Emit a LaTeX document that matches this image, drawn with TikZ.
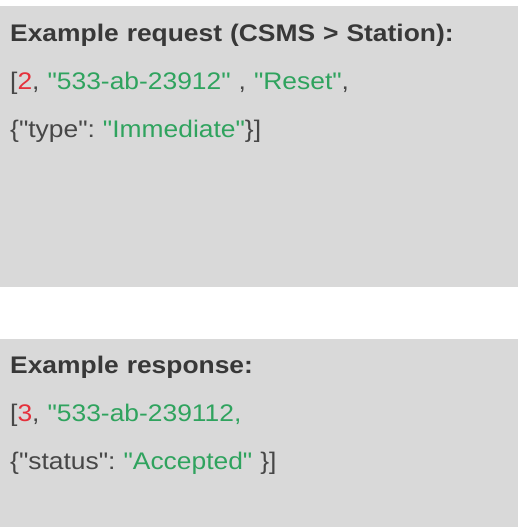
\documentclass[tikz,border=0pt]{standalone}
\usepackage{fontspec}
\setmainfont{Liberation Sans}[FakeStretch=1.1, Ligatures=TeXOff]
\usetikzlibrary{positioning}
\frenchspacing

\definecolor{panelgray}{HTML}{D9D9D9}
\definecolor{textgray}{HTML}{474747}
\definecolor{headgray}{HTML}{383838}
\definecolor{strgreen}{HTML}{2FA35E}
\definecolor{numred}{HTML}{E5303B}

\newcommand{\jstr}[1]{\textcolor{strgreen}{#1}}
\newcommand{\jnum}[1]{\textcolor{numred}{#1}}

\begin{document}
\begin{tikzpicture}[x=1bp,y=1bp,node distance=48bp]
        % Define block styles
        \tikzstyle{block} = [rectangle, fill=panelgray, anchor=north west, inner sep=0, minimum width=518bp]
        \tikzstyle{code} = [text width=480bp, align=left, inner sep=0, text height=18bp, text depth=6bp, text=textgray, font=\fontsize{24bp}{28bp}\selectfont]
        \tikzstyle{heading} = [code, text=headgray, font=\fontsize{24bp}{28bp}\selectfont\bfseries]

        \useasboundingbox (0,0) rectangle (518,-527);

        % Panels
        \node [block, minimum height=281bp] (request) at (0,-6) {};
        \node [block, minimum height=188bp] (response) at (0,-339) {};

        % Request
        \node [heading, anchor=west] (reqtitle) at (10,-36) {Example request (CSMS > Station):};
        \node [code, below of=reqtitle] (reqline1) {[\jnum{2}, \jstr{"533-ab-23912"} , \jstr{"Reset"},};
        \node [code, below of=reqline1] (reqline2) {\{"type": \jstr{"Immediate"}\}]};

        % Response
        \node [heading, anchor=west] (resptitle) at (10,-367) {Example response:};
        \node [code, below of=resptitle] (respline1) {[\jnum{3}, \jstr{"533-ab-239112,}};
        \node [code, below of=respline1] (respline2) {\{"status": \jstr{"Accepted"} \}]};

    \end{tikzpicture}
\end{document}
